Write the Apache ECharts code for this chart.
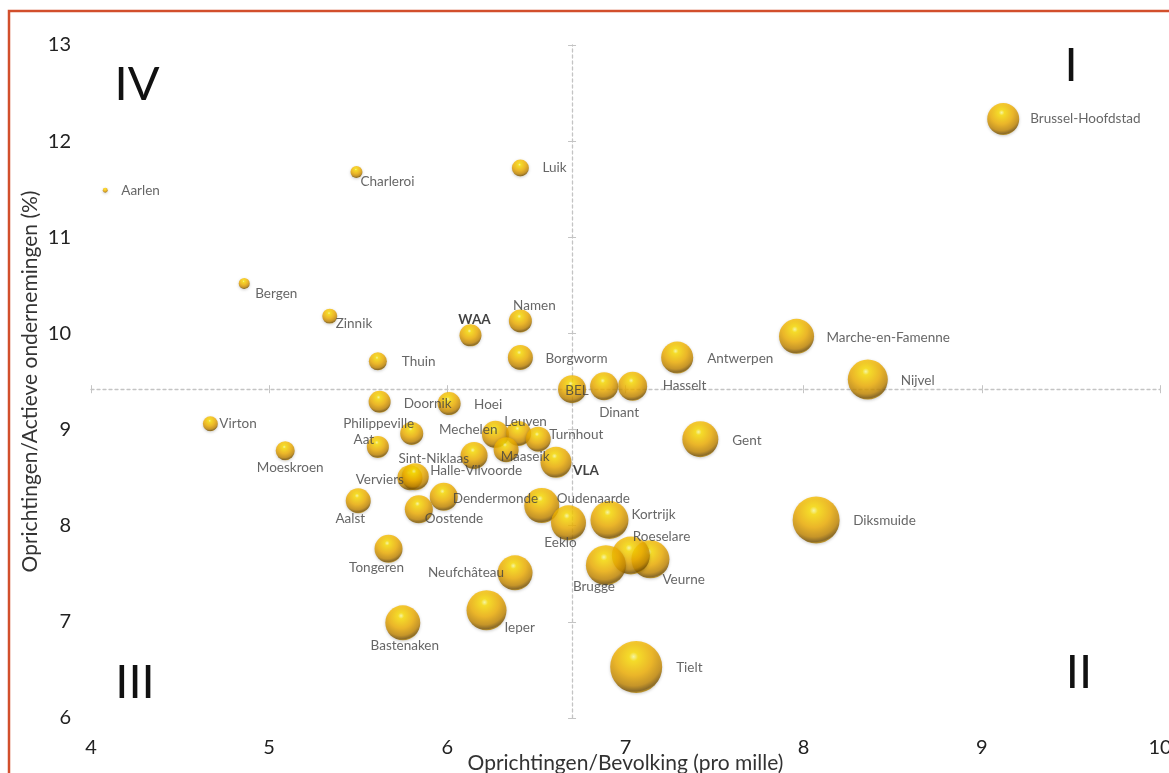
<!DOCTYPE html>
<html>
<head>
<meta charset="utf-8">
<script src="https://cdn.jsdelivr.net/npm/echarts@6/dist/echarts.min.js"></script>
<style>
html,body{margin:0;padding:0;background:#fff;}
#chart{width:1169px;height:773px;}
</style>
</head>
<body>
<div id="chart"></div>
<script>
// ---- Data ----
const names = ['Aarlen','Charleroi','Luik','Brussel-Hoofdstad','Bergen','Zinnik','WAA','Namen','Marche-en-Famenne','Thuin','Borgworm','Antwerpen','BEL','Dinant','Hasselt','Nijvel','Doornik','Hoei','Virton','Philippeville','Mechelen','Leuven','Turnhout','Aat','Gent','Moeskroen','Maaseik','Sint-Niklaas','VLA','Verviers','Halle-Vilvoorde','Dendermonde','Oudenaarde','Kortrijk','Aalst','Oostende','Eeklo','Diksmuide','Veurne','Roeselare','Brugge','Tongeren','Neufchâteau','Ieper','Bastenaken','Tielt'];
const xValues = [4.08,5.49,6.41,9.12,4.86,5.34,6.13,6.41,7.96,5.61,6.41,7.29,6.70,6.88,7.04,8.36,5.62,6.01,4.67,5.80,6.27,6.40,6.51,5.61,7.42,5.09,6.33,6.15,6.61,5.79,5.82,5.98,6.53,6.91,5.50,5.84,6.68,8.07,7.14,7.03,6.89,5.67,6.38,6.22,5.75,7.06];
const yValues = [11.49,11.68,11.72,12.23,10.52,10.18,9.98,10.13,9.97,9.71,9.75,9.75,9.42,9.45,9.45,9.52,9.29,9.27,9.06,8.96,8.95,8.96,8.90,8.82,8.90,8.78,8.79,8.73,8.66,8.50,8.51,8.30,8.21,8.06,8.26,8.17,8.03,8.06,7.65,7.69,7.59,7.76,7.51,7.12,6.99,6.53];
const bubbleValues = [0.9,5.3,10.7,37.9,4.5,8.3,17.9,19.6,45.3,12.0,23.1,37.9,29.0,29.0,31.0,59.2,17.9,19.6,8.3,19.6,27.0,23.1,23.1,17.9,47.9,13.4,23.1,27.0,35.5,23.1,27.0,29.0,45.3,53.4,23.1,29.0,45.3,81.7,53.4,53.4,59.2,29.0,45.3,59.2,45.3,100];
const boldNames = ['WAA','VLA'];
const xTicks = [4,5,6,7,8,9,10];
const yTicks = [6,7,8,9,10,11,12,13];
const quadrantLabels = ['I','II','III','IV'];
const xTitle = 'Oprichtingen/Bevolking (pro mille)';
const yTitle = 'Oprichtingen/Actieve ondernemingen (%)';
const crossName = 'BEL';

// ---- label placement (style): [align, dx, dy] relative to bubble centre ----
const labelPlacement = {
  'Aarlen':['left',16,0],'Charleroi':['left',4,10],'Luik':['left',22,0],'Brussel-Hoofdstad':['left',27,0],
  'Bergen':['left',11,10],'Zinnik':['left',6,8],'WAA':['center',4,-16],'Namen':['center',14,-15],
  'Marche-en-Famenne':['left',30,1],'Thuin':['left',24,0],'Borgworm':['left',25,1],'Antwerpen':['left',30,1],
  'BEL':['center',5,1],'Dinant':['center',15,26],'Hasselt':['left',30,-1],'Nijvel':['left',33,1],
  'Doornik':['left',24,2],'Hoei':['left',25,1],'Virton':['left',9,0],'Philippeville':['center',-33,-10],
  'Mechelen':['right',2,-5],'Leuven':['center',7,-12],'Turnhout':['left',11,-5],'Aat':['center',-14,-7],
  'Gent':['left',32,1],'Moeskroen':['center',5,17],'Maaseik':['center',19,7],'Sint-Niklaas':['right',-5,3],
  'VLA':['left',17,8],'Verviers':['right',-6,2],'Halle-Vilvoorde':['left',15,-6],'Dendermonde':['left',9,2],
  'Oudenaarde':['left',15,-7],'Kortrijk':['left',22,-5],'Aalst':['center',-8,18],'Oostende':['left',6,9],
  'Eeklo':['center',-8,20],'Diksmuide':['left',37,1],'Veurne':['left',12,20],'Roeselare':['left',2,-19],
  'Brugge':['center',-12,22],'Tongeren':['center',-12,19],'Neufchâteau':['right',-11,0],'Ieper':['left',18,17],
  'Bastenaken':['center',2,23],'Tielt':['left',40,1]
};

const FONT = 'Lato, "Open Sans", sans-serif';
const GRID = {left:91, right:9, top:45, bottom:55};
const W = 1169, H = 773;
const gridW = W - GRID.left - GRID.right;
const gridH = H - GRID.top - GRID.bottom;
const xMin = xTicks[0], xMax = xTicks[xTicks.length-1];
const yMin = yTicks[0], yMax = yTicks[yTicks.length-1];
const SIZE_K = 5.2;
const sizeOf = (z)=>Math.sqrt(z)*SIZE_K;

const ci = names.indexOf(crossName);
const crossX = xValues[ci], crossY = yValues[ci];

const sphere = {
  type:'radial', x:0.45, y:0.3, r:0.72,
  colorStops:[
    {offset:0, color:'#ffff9a'},
    {offset:0.12, color:'#ffdf00'},
    {offset:0.5, color:'#f2b000'},
    {offset:0.78, color:'#c48700'},
    {offset:0.92, color:'#7a5300'},
    {offset:1, color:'#dba200'}
  ]
};

const data = names.map((n,i)=>{
  const p = labelPlacement[n] || ['left',10,0];
  const bold = boldNames.includes(n);
  const r = sizeOf(bubbleValues[i])/2;
  return {
    name:n,
    value:[xValues[i], yValues[i], bubbleValues[i]],
    label:{
      show:true, position:[r + p[1], r + p[2]], align:p[0], verticalAlign:'middle',
      fontWeight: bold ? 'bold' : 'normal',
      color: bold ? '#111' : '#404040'
    }
  };
});

const crossLine = {show:true, onZero:false, lineStyle:{color:'#c4c4c4', width:1.3, type:[3,3]}};
const crossTick = (inside)=>({show:true, inside:inside, length:4, lineStyle:{color:'#c4c4c4', width:1}});

const chart = echarts.init(document.getElementById('chart'), null, {renderer:'canvas'});
chart.setOption({
  backgroundColor:'#fff',
  animation:false,
  textStyle:{fontFamily:FONT},
  grid:Object.assign({outerBoundsMode:'none', containLabel:false}, GRID),
  xAxis:[
    {type:'value', min:xMin, max:xMax, interval:1, position:'bottom',
     axisLine:{show:false}, axisTick:{show:false}, splitLine:{show:false},
     axisLabel:{fontSize:20, color:'#222', margin:20, fontFamily:FONT},
     name:xTitle, nameLocation:'middle', nameGap:35, nameMoveOverlap:false,
     nameTextStyle:{fontSize:21, color:'#333', fontFamily:FONT}},
    {type:'value', min:xMin, max:xMax, interval:1, position:'bottom',
     offset:-(crossY-yMin)/(yMax-yMin)*gridH,
     axisLine:crossLine, axisTick:crossTick(false), axisLabel:{show:false}, splitLine:{show:false}},
    {type:'value', min:xMin, max:xMax, interval:1, position:'bottom',
     offset:-(crossY-yMin)/(yMax-yMin)*gridH,
     axisLine:{show:false}, axisTick:crossTick(true), axisLabel:{show:false}, splitLine:{show:false}}
  ],
  yAxis:[
    {type:'value', min:yMin, max:yMax, interval:1, position:'left',
     axisLine:{show:false}, axisTick:{show:false}, splitLine:{show:false},
     axisLabel:{fontSize:20, color:'#222', margin:20, fontFamily:FONT},
     name:yTitle, nameLocation:'middle', nameGap:50, nameRotate:90, nameMoveOverlap:false,
     nameTextStyle:{fontSize:21, color:'#333', fontFamily:FONT}},
    {type:'value', min:yMin, max:yMax, interval:1, position:'left',
     offset:-(crossX-xMin)/(xMax-xMin)*gridW,
     axisLine:crossLine, axisTick:crossTick(false), axisLabel:{show:false}, splitLine:{show:false}},
    {type:'value', min:yMin, max:yMax, interval:1, position:'left',
     offset:-(crossX-xMin)/(xMax-xMin)*gridW,
     axisLine:{show:false}, axisTick:crossTick(true), axisLabel:{show:false}, splitLine:{show:false}}
  ],
  series:[{
    type:'scatter',
    xAxisIndex:0, yAxisIndex:0,
    symbol:'circle',
    symbolSize:(v)=>sizeOf(v[2]),
    itemStyle:{color:sphere, shadowColor:'rgba(0,0,0,0.25)', shadowBlur:3, shadowOffsetY:1},
    label:{show:true, formatter:'{b}', fontSize:13.5, fontFamily:FONT, color:'#404040'},
    labelLayout:{hideOverlap:false},
    data:data
  }],
  graphic:[
    {type:'rect', shape:{x:9, y:11, width:1180, height:800}, style:{fill:null, stroke:'#d24f2c', lineWidth:2.5}, silent:true},
    {type:'text', x:1071, y:66, style:{text:quadrantLabels[0], font:'47px '+FONT, fill:'#111', align:'center', verticalAlign:'middle'}},
    {type:'text', x:1079, y:673, style:{text:quadrantLabels[1], font:'47px '+FONT, fill:'#111', align:'center', verticalAlign:'middle'}},
    {type:'text', x:135, y:683, style:{text:quadrantLabels[2], font:'47px '+FONT, fill:'#111', align:'center', verticalAlign:'middle'}},
    {type:'text', x:137, y:85, style:{text:quadrantLabels[3], font:'47px '+FONT, fill:'#111', align:'center', verticalAlign:'middle'}}
  ]
});
</script>
</body>
</html>
